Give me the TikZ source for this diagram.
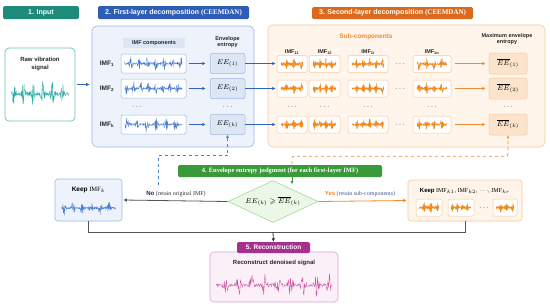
\documentclass[tikz,border=0pt]{standalone}
\usepackage{amssymb}
\usepackage{fontspec}
\setmainfont{Liberation Serif}
\setsansfont{Liberation Sans}
\usetikzlibrary{arrows.meta,shapes.geometric}
\newcommand\fsz[1]{\fontsize{#1}{#1}\selectfont}
\definecolor{cTealH}{HTML}{1E8A7C}
\definecolor{cTealB}{HTML}{6CC3B9}
\definecolor{cTealW}{HTML}{2FAFA5}
\definecolor{cBlueH}{HTML}{2D5DB4}
\definecolor{cBlueP}{HTML}{EEF3FB}
\definecolor{cBlueB}{HTML}{9CB6E2}
\definecolor{cBlueBx}{HTML}{DCE6F5}
\definecolor{cBlueW}{HTML}{4A7FD2}
\definecolor{cBlueA}{HTML}{2F63C0}
\definecolor{cOrH}{HTML}{DC6A1C}
\definecolor{cOrP}{HTML}{FFF5EB}
\definecolor{cOrB}{HTML}{F6C8A0}
\definecolor{cOrBx}{HTML}{FCE3CB}
\definecolor{cOrW}{HTML}{F28A1E}
\definecolor{cOrA}{HTML}{F08A30}
\definecolor{cGrH}{HTML}{3A9A3A}
\definecolor{cGrP}{HTML}{EBF7E7}
\definecolor{cGrB}{HTML}{A6D89C}
\definecolor{cMgH}{HTML}{A6308E}
\definecolor{cMgP}{HTML}{FBF0F8}
\definecolor{cMgB}{HTML}{DBA5D0}
\definecolor{cMgW}{HTML}{C8519F}
\definecolor{cGray}{HTML}{555555}
\definecolor{cNavy}{HTML}{1E2B48}
\definecolor{cBgr}{HTML}{3E5A88}
% wave: node, halfwidth, halfheight, colour, seed, bursts
\newcommand\wv[6]{\pgfmathsetseed{#5}%
  \draw[#4, line width=0.35pt, shift={(#1)}] plot[domain=-1:1, samples=200]
    ({(#2)*\x},{(#3)*rand*(0.12+0.88*abs(sin(\x*(#6)*90+40))^6)});}
\tikzset{
  hdr/.style={rounded corners=1.5pt, text=white, inner sep=0pt, font=\sffamily\bfseries\fsz{7}},
  lab/.style={font=\sffamily\bfseries\fontsize{5.5}{6.5}\selectfont, text=black!85, align=center, inner sep=0pt},
  wbox/.style={draw=#1, fill=white, rounded corners=1.5pt, line width=0.5pt, inner sep=0pt},
  eebox/.style={rounded corners=2pt, line width=0.5pt, inner sep=0pt, minimum height=20pt, font=\fsz{7}},
  barr/.style={cBlueA, line width=0.8pt, -{Latex[length=3.5pt,width=3.5pt]}},
  oarr/.style={cOrA, line width=0.8pt, -{Latex[length=3.5pt,width=3.5pt]}},
  garr/.style={cGray, line width=0.8pt, -{Latex[length=3.5pt,width=3.5pt]}},
  dots/.style={inner sep=0pt, font=\fsz{7}}
}
\begin{document}
\begin{tikzpicture}[x=1pt,y=-1pt]
\useasboundingbox (0,0) rectangle (550,306);
\fill[white] (0,0) rectangle (550,306);

% ---------- 1. Input
\node[hdr, fill=cTealH, minimum width=76pt, minimum height=13pt] (h1) at (41,12.5) {1. Input};
\node[draw=cTealB, fill=white, rounded corners=4pt, line width=0.7pt, minimum width=70pt, minimum height=73pt] (inp) at (40,84.5) {};
\node[lab, font=\sffamily\bfseries\fontsize{6}{7.5}\selectfont] (inpt) at (40,64) {Raw vibration\\signal};
\coordinate (inpw) at (40,94);
\wv{inpw}{29}{13}{cTealW}{11}{6}

% ---------- 2. First layer
\node[hdr, fill=cBlueH, minimum width=151pt, minimum height=13pt] (h2) at (173.5,12.5) {2. First-layer decomposition {\rmfamily(CEEMDAN)}};
\node[draw=cBlueB, fill=cBlueP, rounded corners=5pt, line width=0.6pt, minimum width=162pt, minimum height=121pt] (p1) at (173,86.5) {};
\draw[barr] ([xshift=2pt]inp.east) -- ([xshift=-2pt]inp.east -| p1.west);
\node[lab, fill=cBlueBx, minimum width=62pt, minimum height=10pt] (imfc) at (154,43) {IMF components};
\node[lab] (envt) at (227.5,42) {Envelope\\entropy};
\node[lab, font=\sffamily\bfseries\fsz{6.5}] (l1) at (107,63.5) {IMF\textsubscript{1}};
\node[lab, font=\sffamily\bfseries\fsz{6.5}] (l2) at (107,88.5) {IMF\textsubscript{2}};
\node[lab, font=\sffamily\bfseries\fsz{6.5}] (l3) at (107,124.5) {IMF\textsubscript{k}};
\node[dots] (d1) at (137,107) {$\cdots$};
\node[dots] (d2) at (227.5,107) {$\cdots$};
\foreach \r/\ry/\sd/\bn in {1/63.5/21/7,2/88.5/22/8,3/124.5/23/6}{
  \node[wbox=cBlueB, minimum width=65pt, minimum height=19pt] (w\r) at (153.5,\ry) {};
  \wv{w\r}{29}{7.5}{cBlueW}{\sd}{\bn}
}
\node[eebox, draw=cBlueB, fill=cBlueBx, minimum width=35pt] (ee1) at (227.5,63.5) {$EE_{(1)}$};
\node[eebox, draw=cBlueB, fill=cBlueBx, minimum width=35pt] (ee2) at (227.5,88.5) {$EE_{(2)}$};
\node[eebox, draw=cBlueB, fill=cBlueBx, minimum width=35pt] (ee3) at (227.5,124.5) {$EE_{(k)}$};
\foreach \r in {1,2,3}{
  \draw[barr] ([xshift=3pt]w\r.east) -- ([xshift=-4pt]ee\r.west);
}

% ---------- 3. Second layer
\node[hdr, fill=cOrH, minimum width=161pt, minimum height=12pt] (h3) at (392.5,13) {3. Second-layer decomposition {\rmfamily(CEEMDAN)}};
\node[draw=cOrB, fill=cOrP, rounded corners=5pt, line width=0.6pt, minimum width=277pt, minimum height=122pt] (p2) at (406.5,86) {};
\node[lab, text=cOrA, font=\sffamily\bfseries\fsz{6.5}] (subc) at (366,37) {Sub-components};
\node[lab] (maxe) at (507,39) {Maximum envelope\\entropy};
\node[lab] (c1) at (292,52) {IMF\textsubscript{11}};
\node[lab] (c2) at (325,52) {IMF\textsubscript{12}};
\node[lab] (c3) at (368,52) {IMF\textsubscript{1i}};
\node[lab] (c4) at (432,52) {IMF\textsubscript{1n}};
\foreach \c/\cx/\cw/\bn in {1/292/30/3,2/324.5/31/4,3/368/40/5,4/432/38/4}{
  \foreach \r/\ry in {1/64,2/88.5,3/124.5}{
    \pgfmathtruncatemacro\sd{\r*7+\c*13+5}
    \node[wbox=cOrB, minimum width=\cw pt, minimum height=17pt] (s\r\c) at (\cx,\ry) {};
    \wv{s\r\c}{\cw/2-4}{6}{cOrW}{\sd}{\bn}
  }
  \node[dots] (cd\c) at (\cx,107) {$\cdots$};
}
\foreach \r/\ry in {1/64,2/88.5,3/124.5}{
  \node[dots] (rd\r) at (400,\ry) {$\cdots$};
}
\node[eebox, draw=cOrB, fill=cOrBx, minimum width=38pt, minimum height=21pt] (m1) at (508,63.5) {$\overline{EE}_{(1)}$};
\node[eebox, draw=cOrB, fill=cOrBx, minimum width=38pt, minimum height=21pt] (m2) at (508,88.5) {$\overline{EE}_{(2)}$};
\node[eebox, draw=cOrB, fill=cOrBx, minimum width=38pt, minimum height=21pt] (m3) at (508,124.5) {$\overline{EE}_{(k)}$};
\node[dots] (md) at (508,107) {$\cdots$};
\foreach \r in {1,2,3}{
  \draw[barr, line width=0.7pt] (ee\r.east) -- ([xshift=-1pt]s\r1.west |- ee\r.east);
  \draw[oarr] ([xshift=4pt]s\r4.east |- m\r.west) -- ([xshift=-3pt]m\r.west);
}

% ---------- 4. Judgment
\node[hdr, fill=cGrH, minimum width=204pt, minimum height=12pt, font=\rmfamily\bfseries\fsz{6.5}] (h4) at (280,171) {4. Envelope entropy judgment (for each first-layer IMF)};
\node[diamond, aspect=2.14, draw=cGrB, fill=cGrP, line width=0.6pt, minimum width=90pt, minimum height=42pt, inner sep=0pt, font=\fsz{7}] (dia) at (273,201.5) {$EE_{(k)}\geqslant\overline{EE}_{(k)}$};
\draw[cGrH, line width=0.7pt, -{Latex[length=3pt,width=3pt]}] ([xshift=12pt]h4.south) -- ++(0,7);

\node[draw=cBlueB, fill=cBlueP, rounded corners=3pt, line width=0.6pt, minimum width=67pt, minimum height=42pt] (kl) at (88.5,200) {};
\node[inner sep=0pt, font=\fsz{6.5}] (klt) at (88.5,190) {{\sffamily\bfseries Keep} IMF$_k$};
\coordinate (klw) at (88.5,208);
\wv{klw}{27}{7}{cBlueW}{31}{6}

\node[draw=cOrB, fill=cOrP, rounded corners=3pt, line width=0.6pt, minimum width=114pt, minimum height=41pt] (kr) at (465,200.5) {};
\node[inner sep=0pt, font=\fsz{6}] (krt) at (465,191) {{\sffamily\bfseries Keep} IMF$_{k1}$, IMF$_{k2}$, $\cdots$, IMF$_{kr}$};
\node[wbox=cOrB, minimum width=26pt, minimum height=17pt] (k1) at (429,207.5) {};
\node[wbox=cOrB, minimum width=26pt, minimum height=17pt] (k2) at (461,207.5) {};
\node[dots] (kd) at (484,207.5) {$\cdots$};
\node[wbox=cOrB, minimum width=24pt, minimum height=17pt] (k3) at (505,207.5) {};
\wv{k1}{10}{6}{cOrW}{41}{3}
\wv{k2}{10}{5}{cOrW}{42}{4}
\wv{k3}{9}{5}{cOrW}{43}{3}

\draw[garr] (dia.west) -- ([xshift=1pt]kl.east);
\node[inner sep=0pt, font=\fsz{6}] (nolab) at (176,194) {{\sffamily\bfseries\color{cNavy}No} {\color{black!80}(retain original IMF)}};
\draw[oarr] (dia.east) -- ([xshift=-1pt]kr.west);
\node[inner sep=0pt, font=\fsz{6}] (yeslab) at (360,194) {{\sffamily\bfseries\color{cOrA}Yes} {\color{cBgr}(retain sub-components)}};

% dashed feedback
\coordinate (bd) at (158,185);
\draw[cBlueW, line width=0.7pt, dashed, -{Latex[length=3pt,width=3pt]}] (bd) |- ([yshift=-21pt]ee3.south) -- (ee3.south);
\coordinate (od) at (292,164);
\draw[cOrA, line width=0.7pt, dashed, rounded corners=2pt, -{Latex[length=3pt,width=3pt]}] (od) |- ([yshift=-21pt]m3.south) -- (m3.south);

% ---------- 5. Reconstruction
\coordinate (jn) at (273,232);
\draw[cGray, line width=0.8pt] (kl.south) |- (jn);
\draw[cGray, line width=0.8pt] (kr.south) |- (jn);
\node[draw=cMgB, fill=cMgP, rounded corners=4pt, line width=0.6pt, minimum width=128pt, minimum height=50pt] (rec) at (274,277) {};
\node[hdr, fill=cMgH, minimum width=73pt, minimum height=11pt, font=\sffamily\bfseries\fsz{6.5}] (h5) at (273.5,247.5) {5. Reconstruction};
\draw[garr, cGray!60!black] (jn) -- (h5.north);
\node[lab, font=\sffamily\bfseries\fsz{6}] (rect) at (274,263) {Reconstruct denoised signal};
\coordinate (recw) at (274,285);
\wv{recw}{58}{13}{cMgW}{9}{9}
\end{tikzpicture}
\end{document}
